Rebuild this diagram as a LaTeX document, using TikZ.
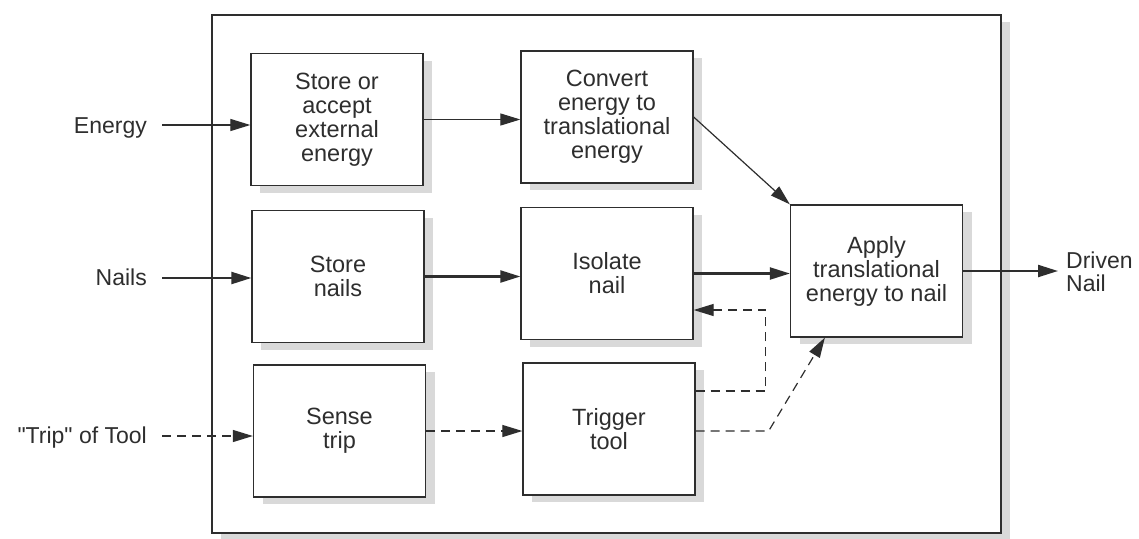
\documentclass[tikz,border=0pt]{standalone}
\usepackage{fontspec}
\setmainfont{Liberation Sans}
\usetikzlibrary{arrows.meta,shadows}
\definecolor{ink}{gray}{0.18}
\tikzset{
  shad/.style={drop shadow={shadow xshift=9pt,shadow yshift=-7pt,fill=black!15,opacity=1}},
  fbox/.style={draw=ink,line width=1.3pt,fill=white,shad,minimum width=172pt,minimum height=132pt,
    align=center,inner sep=0pt,text=ink,font=\fontsize{23.5}{24}\selectfont},
  lbl/.style={inner sep=0pt,text=ink,font=\fontsize{23}{23}\selectfont},
  arr/.style={draw=ink,line width=1.2pt,-{Triangle[length=20pt,width=12pt]}},
  thick arr/.style={arr,line width=2.2pt},
  dash arr/.style={arr,dash pattern=on 9pt off 6pt}
}
\begin{document}
\begin{tikzpicture}[x=1pt,y=-1pt]
\useasboundingbox (0,0) rectangle (1139,538);
% outer frame
\node[draw=ink,line width=1.5pt,fill=white,shad,minimum width=789pt,minimum height=518pt,inner sep=0pt] (frame) at (606.5,274) {};
% function boxes
\node[fbox] (store) at (337,119.5) {Store or\\accept\\external\\energy};
\node[fbox] (convert) at (607,117) {Convert\\energy to\\translational\\energy};
\node[fbox] (nails) at (338,276.5) {Store\\nails};
\node[fbox] (isolate) at (607,273.5) {Isolate\\nail};
\node[fbox] (apply) at (876.5,271) {Apply\\translational\\energy to nail};
\node[fbox] (sense) at (339.5,431) {Sense\\trip};
\node[fbox] (trigger) at (609,429) {Trigger\\tool};
% external labels
\node[lbl,anchor=base east] (energyL) at (147,133) {Energy};
\node[lbl,anchor=base east] (nailsL) at (147,285) {Nails};
\node[lbl,anchor=base east] (tripL) at (147,443) {\textquotedbl Trip\textquotedbl{} of Tool};
\node[lbl,anchor=west,align=left] (drivenL) at (1066,272) {Driven\\Nail};
\coordinate (eIn) at (162,125);
\coordinate (nIn) at (162,278);
\coordinate (tIn) at (162,436);
\coordinate (out) at (1058,271);
% connectors
\draw[arr] (eIn) -- (eIn -| store.west);
\draw[arr] (store.east) -- (store.east -| convert.west);
\draw[arr] (convert.east) -- (apply.north west);
\draw[thick arr] (nIn) -- (nIn -| nails.west);
\draw[thick arr] (nails.east) -- (nails.east -| isolate.west);
\draw[thick arr] (isolate.east) -- (isolate.east -| apply.west);
\draw[thick arr] (apply.east) -- (out);
\draw[dash arr] (tIn) -- (tIn -| sense.west);
\draw[dash arr] (sense.east) -- (sense.east -| trigger.west);
\draw[dash arr] ([yshift=38pt]trigger.east) -- ++(70,0) |- ([yshift=-36.5pt]isolate.east);
\draw[dash arr] ([yshift=-2pt]trigger.east) -- ++(73,0) -- ([xshift=35pt]apply.south west);
\end{tikzpicture}
\end{document}
